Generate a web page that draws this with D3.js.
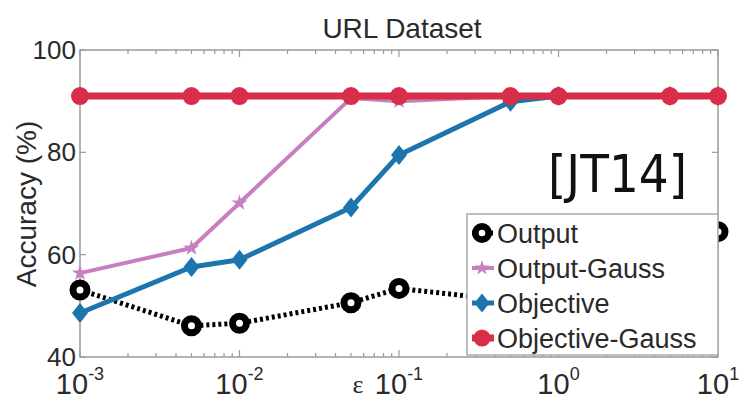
<!DOCTYPE html>
<html>
<head>
<meta charset="utf-8">
<script src="https://cdn.jsdelivr.net/npm/d3@7"></script>
<style>
  html, body { margin: 0; padding: 0; background: #fff; }
  svg { display: block; }
  text { font-family: "Liberation Sans", Arial, sans-serif; fill: #2a2a2a; }
</style>
</head>
<body>
<svg id="chart" width="739" height="399"></svg>
<script>
// Privacy budget values on the x axis
const epsilons = [0.001, 0.005, 0.01, 0.05, 0.1, 0.5, 1, 5, 10];

// Accuracy (%) per method
const outputAcc         = [53.1, 46.1, 46.6, 50.6, 53.4, 51.0, 55.0, 60.0, 64.5];
const outputGaussAcc    = [56.4, 61.3, 70.1, 90.6, 90.0, 91.0, 91.0, 91.0, 91.0];
const objectiveAcc      = [48.6, 57.6, 59.0, 69.2, 79.5, 89.9, 91.0, 91.0, 91.0];
const objectiveGaussAcc = [91.0, 91.0, 91.0, 91.0, 91.0, 91.0, 91.0, 91.0, 91.0];

const seriesNames = ["Output", "Output-Gauss", "Objective", "Objective-Gauss"];

// Tick labels
const xTickValues = [0.001, 0.01, 0.1, 1, 10];
const xTickExponents = ["-3", "-2", "-1", "0", "1"];
const yTickValues = [40, 60, 80, 100];

const svg = d3.select("#chart");
const plotL = 80, plotR = 718, plotT = 50, plotB = 357;

const x = d3.scaleLog().domain([0.001, 10]).range([plotL, plotR]);
const y = d3.scaleLinear().domain([40, 100]).range([plotB, plotT]);

// Axes box
const axisColor = "#9a9a9a";
const gAxes = svg.append("g");
gAxes.append("rect")
  .attr("x", plotL).attr("y", plotT)
  .attr("width", plotR - plotL).attr("height", plotB - plotT)
  .attr("fill", "none").attr("stroke", axisColor).attr("stroke-width", 1.5);

// Log ticks (major + minor), inward, top and bottom
const allTicks = x.ticks();
allTicks.forEach(t => {
  const isMajor = xTickValues.some(v => Math.abs(v - t) / v < 1e-6);
  const len = isMajor ? 7 : 4;
  gAxes.append("line").attr("x1", x(t)).attr("x2", x(t))
    .attr("y1", plotB).attr("y2", plotB - len)
    .attr("stroke", axisColor).attr("stroke-width", 1.2);
  gAxes.append("line").attr("x1", x(t)).attr("x2", x(t))
    .attr("y1", plotT).attr("y2", plotT + len)
    .attr("stroke", axisColor).attr("stroke-width", 1.2);
});
yTickValues.forEach(v => {
  gAxes.append("line").attr("x1", plotL).attr("x2", plotL + 6)
    .attr("y1", y(v)).attr("y2", y(v)).attr("stroke", axisColor).attr("stroke-width", 1.2);
  gAxes.append("line").attr("x1", plotR).attr("x2", plotR - 6)
    .attr("y1", y(v)).attr("y2", y(v)).attr("stroke", axisColor).attr("stroke-width", 1.2);
});

// Y tick labels
svg.append("g").selectAll("text").data(yTickValues).join("text")
  .attr("x", plotL - 4).attr("y", d => y(d) + 9)
  .attr("text-anchor", "end").attr("font-size", 26)
  .text(d => d);

// X tick labels: 10 with superscript exponent
const xl = svg.append("g").selectAll("text").data(xTickValues).join("text")
  .attr("x", d => x(d)).attr("y", 394)
  .attr("text-anchor", "middle").attr("font-size", 29);
xl.append("tspan").text("10");
xl.append("tspan").attr("dy", -14).attr("font-size", 18)
  .text((d, i) => xTickExponents[i]);

// Epsilon axis label
svg.append("text").attr("x", 358).attr("y", 393)
  .attr("text-anchor", "middle").attr("font-size", 26)
  .style("font-family", "'Liberation Serif', serif")
  .text("ε");

// Y axis label
svg.append("text")
  .attr("transform", "translate(36,204) rotate(-90)")
  .attr("text-anchor", "middle").attr("font-size", 28)
  .text("Accuracy (%)");

// Title
svg.append("text").attr("x", 402).attr("y", 38)
  .attr("text-anchor", "middle").attr("font-size", 28)
  .text("URL Dataset");

// Series definitions
const series = [
  { name: seriesNames[0], values: outputAcc, color: "#000000", width: 5, dash: "3,3", marker: "ring" },
  { name: seriesNames[1], values: outputGaussAcc, color: "#c77fbf", width: 4, dash: null, marker: "star" },
  { name: seriesNames[2], values: objectiveAcc, color: "#1c75ad", width: 5, dash: null, marker: "diamond" },
  { name: seriesNames[3], values: objectiveGaussAcc, color: "#d92e48", width: 7, dash: null, marker: "dot" }
];

const line = d3.line().x(d => x(d[0])).y(d => y(d[1]));

function drawMarker(g, s, cx, cy, scale) {
  const k = scale || 1;
  if (s.marker === "ring") {
    g.append("circle").attr("cx", cx).attr("cy", cy).attr("r", 7 * k)
      .attr("fill", "#fff").attr("stroke", s.color).attr("stroke-width", 7 * k);
  } else if (s.marker === "dot") {
    g.append("circle").attr("cx", cx).attr("cy", cy).attr("r", 9 * k)
      .attr("fill", s.color);
  } else if (s.marker === "diamond") {
    g.append("path")
      .attr("d", `M${cx},${cy - 10 * k}L${cx + 8 * k},${cy}L${cx},${cy + 10 * k}L${cx - 8 * k},${cy}Z`)
      .attr("fill", s.color);
  } else if (s.marker === "star") {
    g.append("path")
      .attr("transform", `translate(${cx},${cy})`)
      .attr("d", d3.symbol().type(d3.symbolStar).size(80 * k * k)())
      .attr("fill", s.color);
  }
}

const gSeries = svg.append("g");
series.forEach(s => {
  const pts = epsilons.map((e, i) => [e, s.values[i]]);
  gSeries.append("path").datum(pts)
    .attr("d", line)
    .attr("fill", "none").attr("stroke", s.color)
    .attr("stroke-width", s.width)
    .attr("stroke-dasharray", s.dash)
    .attr("stroke-linejoin", "round");
  pts.forEach(p => drawMarker(gSeries, s, x(p[0]), y(p[1])));
});

// Legend
const lg = svg.append("g");
lg.append("rect").attr("x", 467).attr("y", 214).attr("width", 251).attr("height", 141)
  .attr("fill", "#fff").attr("stroke", "#aaa").attr("stroke-width", 1.5);
series.forEach((s, i) => {
  const cy = 233 + i * 35;
  lg.append("line").attr("x1", 472).attr("x2", 494).attr("y1", cy).attr("y2", cy)
    .attr("stroke", s.color).attr("stroke-width", s.width)
    .attr("stroke-dasharray", s.dash);
  drawMarker(lg, s, 482, cy, 0.95);
  lg.append("text").attr("x", 497).attr("y", cy + 10)
    .attr("font-size", 27).text(s.name);
});

// Citation tag
svg.append("text").attr("x", 548).attr("y", 192)
  .attr("font-size", 52)
  .attr("textLength", 139).attr("lengthAdjust", "spacingAndGlyphs")
  .style("font-family", "'DejaVu Sans', sans-serif")
  .style("fill", "#111")
  .text("[JT14]");
</script>
</body>
</html>
